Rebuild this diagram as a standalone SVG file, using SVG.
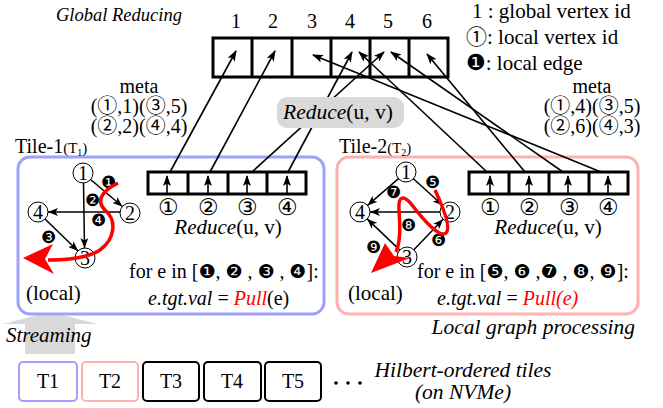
<svg xmlns="http://www.w3.org/2000/svg" width="663" height="408" viewBox="0 0 663 408" font-family="'Liberation Serif', 'Times New Roman', serif">
<style>
text{font-family:'Liberation Serif','Times New Roman',serif;fill:#000}
.it{font-style:italic}
.c{font-family:'Noto Sans CJK JP','DejaVu Sans',sans-serif}
.d{font-family:'DejaVu Sans','Noto Sans CJK JP',sans-serif}
.arr{fill:none;stroke:#000;stroke-width:3}
.con{fill:none;stroke:#000;stroke-width:1.6;marker-end:url(#ah)}
.edge{fill:none;stroke:#000;stroke-width:1.5;marker-end:url(#ah2)}
.v{fill:#fff;stroke:#000;stroke-width:1}
.red{fill:none;stroke:#ff0000;stroke-width:3.5}
.tile{fill:#fff;stroke-width:2}
</style>
<defs>
<marker id="ah" markerWidth="11" markerHeight="8" refX="10" refY="4" orient="auto" markerUnits="userSpaceOnUse"><path d="M0,0 L11,4 L0,8 L2.5,4 z" fill="#000"/></marker>
<marker id="ah2" markerWidth="10" markerHeight="8" refX="10" refY="4" orient="auto" markerUnits="userSpaceOnUse"><path d="M0,0 L10,4 L0,8 L2.5,4 z" fill="#000"/></marker>
</defs>

<text class="it" x="56" y="21" font-size="18.5">Global Reducing</text>
<g id="legend" font-size="21">
<text x="472" y="18">1 : global vertex id</text>
<text x="466" y="44"><tspan class="c" font-size="21">①</tspan>: local vertex id</text>
<text x="466" y="70"><tspan class="d" font-size="22">❶</tspan>: local edge</text>
</g>

<polygon id="streaming-arrow" points="50,312 98,324 75,324 75,354 25,354 25,324 3,324" fill="#d9d9d9"/>
<text class="it" x="6" y="342" font-size="21">Streaming</text>

<g id="tile1">
<rect x="18" y="157" width="306" height="157" rx="12" fill="#fff" stroke="#a0a0ff" stroke-width="3"/>
<text x="15" y="153" font-size="20">Tile-1<tspan font-size="15">(T</tspan><tspan font-size="10" dy="3">1</tspan><tspan font-size="15" dy="-3">)</tspan></text>
</g>
<g id="tile2">
<rect x="337" y="157" width="301" height="157" rx="12" fill="#fff" stroke="#ffb0b0" stroke-width="3"/>
<text x="339" y="153" font-size="20">Tile-2<tspan font-size="15">(T</tspan><tspan font-size="10" dy="3">2</tspan><tspan font-size="15" dy="-3">)</tspan></text>
</g>

<g id="global-array">
<rect class="arr" x="213" y="38" width="235" height="39"/>
<path class="arr" d="M252,38V77M292,38V77M331,38V77M370,38V77M409,38V77"/>
<g font-size="20" text-anchor="middle">
<text x="236" y="28">1</text><text x="273" y="28">2</text><text x="312" y="28">3</text>
<text x="350" y="28">4</text><text x="388" y="28">5</text><text x="427" y="28">6</text>
</g>
</g>

<g id="meta1" font-size="20" text-anchor="middle">
<text x="139" y="93">meta</text>
<text x="139" y="113">(<tspan class="c" font-size="20">①</tspan>,1)(<tspan class="c" font-size="20">③</tspan>,5)</text>
<text x="139" y="133">(<tspan class="c" font-size="20">②</tspan>,2)(<tspan class="c" font-size="20">④</tspan>,4)</text>
</g>
<g id="meta2" font-size="20" text-anchor="middle">
<text x="592" y="93">meta</text>
<text x="592" y="113">(<tspan class="c" font-size="20">①</tspan>,4)(<tspan class="c" font-size="20">③</tspan>,5)</text>
<text x="592" y="133">(<tspan class="c" font-size="20">②</tspan>,6)(<tspan class="c" font-size="20">④</tspan>,3)</text>
</g>

<g id="connectors">
<path class="con" d="M170,172L236,51"/>
<path class="con" d="M210,172L275,51"/>
<path class="con" d="M252,172L384,52"/>
<path class="con" d="M288,172L352,52"/>
<path class="con" d="M487,172L359,52"/>
<path class="con" d="M525,172L427,54"/>
<path class="con" d="M563,172L391,52"/>
<path class="con" d="M601,172L313,55"/>
</g>

<g id="reduce-pill">
<rect x="277" y="97" width="127" height="31" rx="10" fill="#d9d9d9"/>
<text x="338" y="119" font-size="21.5" text-anchor="middle"><tspan class="it">Reduce</tspan>(u, v)</text>
</g>

<g id="local-array1">
<rect class="arr" x="148" y="172" width="158" height="22"/>
<path class="arr" d="M188,172V194M228,172V194M267,172V194"/>
<path class="con" d="M167,194V176"/><path class="con" d="M208,194V176"/><path class="con" d="M247,194V176"/><path class="con" d="M287,194V176"/>
<g class="c" font-size="23" text-anchor="middle">
<text x="168" y="215">①</text><text x="208" y="215">②</text><text x="247" y="215">③</text><text x="287" y="215">④</text>
</g>
<text x="228" y="234" font-size="21" text-anchor="middle"><tspan class="it">Reduce</tspan>(u, v)</text>
</g>
<g id="local-array2">
<rect class="arr" x="469" y="172" width="159" height="22"/>
<path class="arr" d="M509,172V194M549,172V194M589,172V194"/>
<path class="con" d="M490,194V176"/><path class="con" d="M529,194V176"/><path class="con" d="M568,194V176"/><path class="con" d="M608,194V176"/>
<g class="c" font-size="23" text-anchor="middle">
<text x="490" y="215">①</text><text x="529" y="215">②</text><text x="569" y="215">③</text><text x="608" y="215">④</text>
</g>
<text x="548" y="234" font-size="21" text-anchor="middle"><tspan class="it">Reduce</tspan>(u, v)</text>
</g>

<g id="graph1">
<path class="edge" d="M90.6,179.5L122.4,206.5"/>
<path class="edge" d="M120,212L48,212"/>
<path class="edge" d="M83.5,183L84.5,248"/>
<path class="edge" d="M45,219L78,251"/>
<g id="g1v1"><circle class="v" cx="83" cy="173" r="10"/><text x="83" y="180" font-size="20" text-anchor="middle">1</text></g>
<g id="g1v2"><circle class="v" cx="130" cy="213" r="10"/><text x="130" y="220" font-size="20" text-anchor="middle">2</text></g>
<g id="g1v4"><circle class="v" cx="38" cy="212" r="10"/><text x="38" y="219" font-size="20" text-anchor="middle">4</text></g>
<g id="g1v3"><circle class="v" cx="85" cy="258" r="10"/><text x="85" y="265" font-size="20" text-anchor="middle">3</text></g>
<g class="d" font-size="17" text-anchor="middle">
<text x="108" y="188">❶</text><text x="92" y="206">❷</text><text x="48" y="243">❸</text><text x="98" y="226">❹</text>
</g>
<path class="red" d="M118,183C100,192 96,202 106,211C116,220 116,238 100,250C88,258 70,260 48,260"/>
<path d="M23,258L53,244L45,259L54,274Z" fill="#ff0000"/>
</g>

<g id="graph2">
<path class="edge" d="M398.5,178.6L367.5,205.4"/>
<path class="edge" d="M413.4,178.7L442.6,205.3"/>
<path class="edge" d="M440,212L370,212"/>
<path class="edge" d="M399.8,250.1L367.2,218.9"/>
<path class="edge" d="M413.9,249.8L443.1,219.2"/>
<g id="g2v1"><circle class="v" cx="406" cy="172" r="10"/><text x="406" y="179" font-size="20" text-anchor="middle">1</text></g>
<g id="g2v2"><circle class="v" cx="450" cy="212" r="10"/><text x="450" y="219" font-size="20" text-anchor="middle">2</text></g>
<g id="g2v4"><circle class="v" cx="360" cy="212" r="10"/><text x="360" y="219" font-size="20" text-anchor="middle">4</text></g>
<g id="g2v3"><circle class="v" cx="407" cy="257" r="10"/><text x="407" y="264" font-size="20" text-anchor="middle">3</text></g>
<g class="d" font-size="17" text-anchor="middle">
<text x="432" y="188">❺</text><text x="438" y="246">❻</text><text x="393" y="198">❼</text><text x="408" y="231">❽</text><text x="373" y="253">❾</text>
</g>
<path class="red" d="M435,190C442,205 452,228 446,233C440,238 425,222 412,205C404,195 398,195 399,210C400,225 401,240 396,252"/>
<path d="M371,273L385,243L394,256L410,258Z" fill="#ff0000"/>
</g>

<g font-size="20">
<text x="129" y="278">for e in [<tspan class="d" font-size="19">❶</tspan>, <tspan class="d" font-size="19">❷</tspan> , <tspan class="d" font-size="19">❸</tspan> , <tspan class="d" font-size="19">❹</tspan>]:</text>
<text x="26" y="300" font-size="21">(local)</text>
<text x="148" y="305"><tspan class="it">e.tgt.val</tspan> = <tspan class="it" fill="#ff0000">Pull</tspan>(e)</text>
<text x="417" y="278">for e in [<tspan class="d" font-size="19">❺</tspan>, <tspan class="d" font-size="19">❻</tspan> ,<tspan class="d" font-size="19">❼</tspan> , <tspan class="d" font-size="19">❽</tspan>, <tspan class="d" font-size="19">❾</tspan>]:</text>
<text x="348" y="300" font-size="21">(local)</text>
<text x="437" y="305"><tspan class="it">e.tgt.val</tspan> = <tspan class="it" fill="#ff0000">Pull(e)</tspan></text>
</g>
<text class="it" x="635" y="334" font-size="21.5" text-anchor="end">Local graph processing</text>

<g font-size="20" text-anchor="middle">
<g id="T1"><rect class="tile" x="19" y="362" width="58" height="39" rx="4" stroke="#a0a0ff"/><text x="48" y="388">T1</text></g>
<g id="T2"><rect class="tile" x="82" y="362" width="56" height="39" rx="4" stroke="#ffb0b0"/><text x="110" y="388">T2</text></g>
<g id="T3"><rect class="tile" x="143" y="362" width="56" height="39" rx="4" stroke="#000"/><text x="171" y="388">T3</text></g>
<g id="T4"><rect class="tile" x="204" y="362" width="57" height="39" rx="4" stroke="#000"/><text x="232" y="388">T4</text></g>
<g id="T5"><rect class="tile" x="265" y="362" width="56" height="39" rx="4" stroke="#000"/><text x="293" y="388">T5</text></g>
</g>
<g fill="#000"><circle cx="336" cy="383" r="1.8"/><circle cx="348" cy="383" r="1.8"/><circle cx="360" cy="383" r="1.8"/></g>
<g font-size="21.5" text-anchor="middle">
<text class="it" x="463" y="377">Hilbert-ordered tiles</text>
<text class="it" x="463" y="399">(on NVMe)</text>
</g>
</svg>
